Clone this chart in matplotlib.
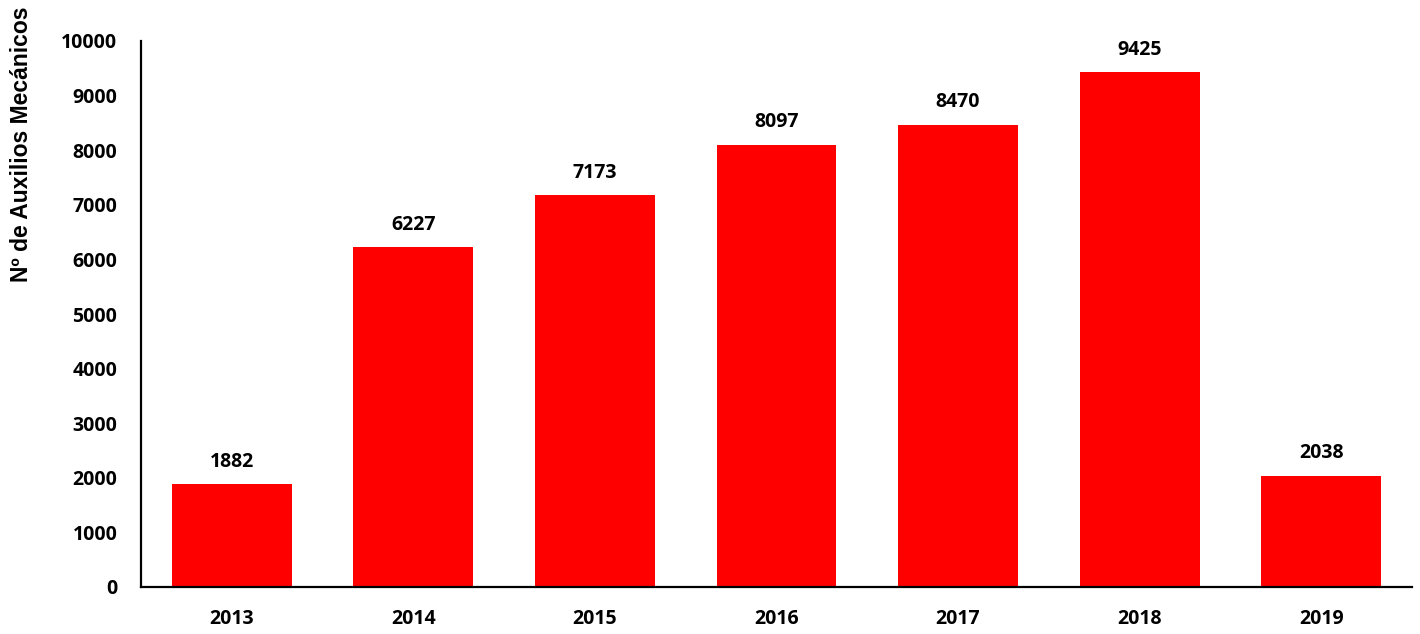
import matplotlib.pyplot as plt

# Data
years = ["2013", "2014", "2015", "2016", "2017", "2018", "2019"]
counts = [1882, 6227, 7173, 8097, 8470, 9425, 2038]
yticks = [0, 1000, 2000, 3000, 4000, 5000, 6000, 7000, 8000, 9000, 10000]

fig = plt.figure(figsize=(14.2, 6.34), dpi=100)
ax = fig.add_axes([141/1420, 47/634, 1271/1420, 546/634])

x = range(len(years))
bars = ax.bar(x, counts, width=0.66, color="#ff0000")

# Value labels above bars
for b, v in zip(bars, counts):
    ax.annotate(str(v), (b.get_x() + b.get_width()/2, v), xytext=(0, 9),
                textcoords="offset points", ha="center", va="bottom",
                fontsize=14, fontweight="bold", family="Open Sans")

ax.set_xlim(-0.5, len(years) - 0.5)
ax.set_ylim(0, 10000)
ax.set_xticks(list(x))
ax.set_xticklabels(years, fontsize=14, fontweight="bold", family="Open Sans")
ax.set_yticks(yticks)
ax.set_yticklabels([str(t) for t in yticks], fontsize=14, fontweight="bold", family="Open Sans")
ax.tick_params(axis="both", length=0)
ax.tick_params(axis="x", pad=16)
ax.tick_params(axis="y", pad=17)

for s in ["top", "right"]:
    ax.spines[s].set_visible(False)
for s in ["left", "bottom"]:
    ax.spines[s].set_linewidth(1.6)

ax.set_ylabel("Nº de Auxilios Mecánicos", fontsize=16.5, fontweight="bold", family="Liberation Sans")
ax.yaxis.set_label_coords(-0.085, 0.81)

fig.savefig("out.png", dpi=100)
